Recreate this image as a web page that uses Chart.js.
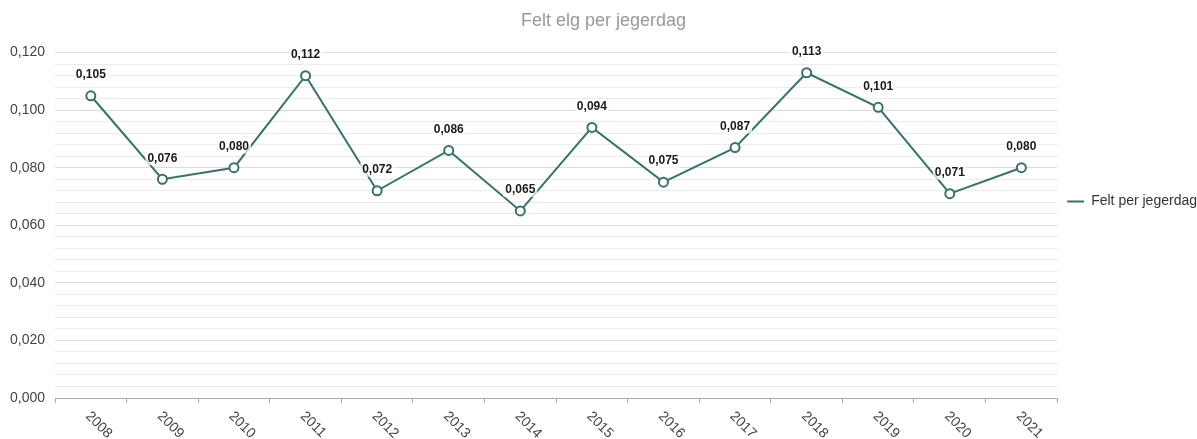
<!DOCTYPE html>
<html>
<head>
<meta charset="utf-8">
<script src="https://cdn.jsdelivr.net/npm/chart.js@4/dist/chart.umd.min.js"></script>
<style>
  html, body { margin: 0; padding: 0; background: #fff; }
  #wrap { width: 1197px; height: 439px; }
</style>
</head>
<body>
<div id="wrap"><canvas id="c"></canvas></div>
<script>
// Hunting season years
const years = ['2008','2009','2010','2011','2012','2013','2014','2015','2016','2017','2018','2019','2020','2021'];
// Moose felled per hunter day
const feltPerJegerdag = [0.105, 0.076, 0.080, 0.112, 0.072, 0.086, 0.065, 0.094, 0.075, 0.087, 0.113, 0.101, 0.071, 0.080];
// Labelled y-axis values
const yTickLabels = [0, 0.02, 0.04, 0.06, 0.08, 0.1, 0.12];

const LINE = '#35736b';
const fmt = v => v.toFixed(3).replace('.', ',');
const isMajor = v => yTickLabels.some(t => Math.abs(t - v) < 1e-9);

// Value labels above each point, on a translucent white backing
const valueLabels = {
  id: 'valueLabels',
  afterDatasetsDraw(chart) {
    const ctx = chart.ctx;
    const meta = chart.getDatasetMeta(0);
    const data = chart.data.datasets[0].data;
    ctx.save();
    ctx.font = 'bold 12px "Liberation Sans", Arial, sans-serif';
    ctx.textAlign = 'center';
    ctx.textBaseline = 'middle';
    meta.data.forEach((pt, i) => {
      const txt = fmt(data[i]);
      const w = ctx.measureText(txt).width;
      const x = pt.x, y = pt.y - 21;
      ctx.fillStyle = 'rgba(255,255,255,0.72)';
      ctx.fillRect(x - w / 2 - 2, y - 7, w + 4, 14);
      ctx.fillStyle = '#1a1a1a';
      ctx.fillText(txt, x, y);
    });
    ctx.restore();
  }
};

// Year labels slanted downward to the right under each category
const slantedYears = {
  id: 'slantedYears',
  afterDraw(chart) {
    const ctx = chart.ctx;
    const xs = chart.scales.x;
    const base = xs.bottom;
    ctx.save();
    ctx.font = '14px "Liberation Sans", Arial, sans-serif';
    ctx.fillStyle = '#444';
    ctx.textAlign = 'left';
    ctx.textBaseline = 'middle';
    chart.data.labels.forEach((lab, i) => {
      const x = xs.getPixelForValue(i);
      ctx.save();
      ctx.translate(x - 3, base + 11);
      ctx.rotate(Math.PI / 4);
      ctx.fillText(lab, 0, 0);
      ctx.restore();
    });
    ctx.restore();
  }
};

new Chart(document.getElementById('c'), {
  type: 'line',
  data: {
    labels: years,
    datasets: [{
      label: 'Felt per jegerdag',
      data: feltPerJegerdag,
      borderColor: LINE,
      backgroundColor: LINE,
      borderWidth: 2,
      tension: 0,
      pointRadius: 4.5,
      pointHoverRadius: 4.5,
      pointBorderWidth: 2,
      pointBackgroundColor: '#fff',
      pointBorderColor: LINE
    }]
  },
  options: {
    responsive: true,
    maintainAspectRatio: false,
    animation: false,
    layout: { padding: { left: 0, right: -10, top: 0, bottom: 36 } },
    plugins: {
      title: {
        display: true,
        text: 'Felt elg per jegerdag',
        color: '#999',
        font: { family: '"Liberation Sans", Arial, sans-serif', size: 18, weight: 'normal' },
        padding: { top: 10, bottom: 21 }
      },
      legend: {
        position: 'right',
        labels: {
          usePointStyle: true,
          pointStyle: 'line',
          pointStyleWidth: 17,
          color: '#333',
          font: { family: '"Liberation Sans", Arial, sans-serif', size: 14 },
          padding: 10
        }
      },
      tooltip: { enabled: false }
    },
    scales: {
      x: {
        offset: true,
        grid: {
          offset: true,
          drawOnChartArea: false,
          drawTicks: true,
          tickLength: 5,
          tickColor: '#aaa'
        },
        border: { display: true, color: '#aaa', width: 1 },
        ticks: { display: false }
      },
      y: {
        min: 0,
        max: 0.12,
        ticks: {
          stepSize: 0.004,
          autoSkip: false,
          padding: 10,
          color: '#444',
          font: { family: '"Liberation Sans", Arial, sans-serif', size: 14 },
          callback: v => isMajor(v) ? fmt(v) : ''
        },
        grid: {
          drawTicks: false,
          color: ctx => isMajor(ctx.tick.value) ? '#dcdcdc' : '#ececec'
        },
        border: { display: false }
      }
    }
  },
  plugins: [valueLabels, slantedYears]
});
</script>
</body>
</html>
